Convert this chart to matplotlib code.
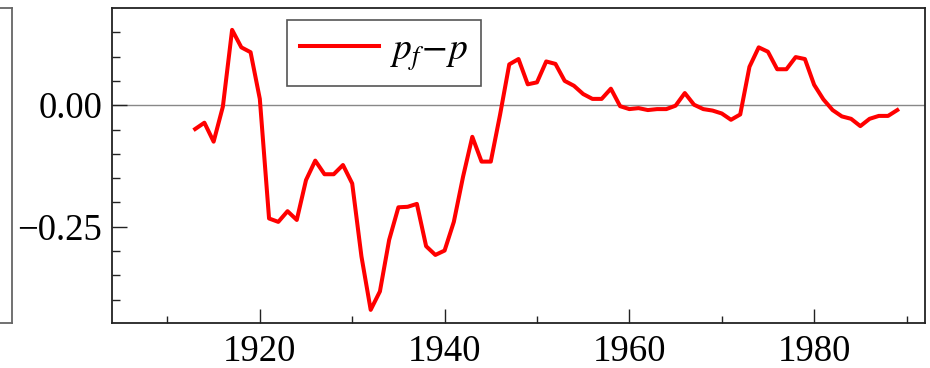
import numpy as np
import matplotlib.pyplot as plt

plt.rcParams['font.family'] = ['Liberation Serif', 'DejaVu Serif']
plt.rcParams['mathtext.fontset'] = 'stix'

years = np.arange(1913, 1990)
pf_minus_p = [
    -0.049, -0.036, -0.075, -0.003, 0.155, 0.119, 0.109, 0.013,   # 1913-1920
    -0.233, -0.240, -0.218, -0.236, -0.154, -0.114, -0.142, -0.142, -0.123, -0.161,  # 1921-1930
    -0.311, -0.421, -0.383, -0.277, -0.210, -0.209, -0.203, -0.290, -0.308, -0.299,  # 1931-1940
    -0.240, -0.147, -0.065, -0.116, -0.116, -0.020, 0.084, 0.095, 0.043, 0.047,     # 1941-1950
    0.090, 0.085, 0.050, 0.040, 0.023, 0.013, 0.013, 0.034, -0.002, -0.008,          # 1951-1960
    -0.006, -0.010, -0.008, -0.008, -0.001, 0.025, 0.001, -0.008, -0.011, -0.017,    # 1961-1970
    -0.030, -0.019, 0.079, 0.119, 0.110, 0.074, 0.074, 0.099, 0.095, 0.042,          # 1971-1980
    0.012, -0.010, -0.023, -0.028, -0.043, -0.028, -0.022, -0.022, -0.010,           # 1981-1989
]

fig = plt.figure(figsize=(9.3, 3.68), dpi=100)

# neighbouring panel, only its right edge is in view
left = fig.add_axes([-0.5, 0.1223, 0.5 + 12 / 930, 0.9783 - 0.1223])
left.set_xticks([])
left.set_yticks([])
for s in left.spines.values():
    s.set_color('#666666')
    s.set_linewidth(1.3)

ax = fig.add_axes([112 / 930, 0.1223, (925 - 112) / 930, 0.9783 - 0.1223])
ax.axhline(0, color='#888888', lw=1.0, zorder=1)
ax.plot(years, pf_minus_p, color='#ff0000', lw=2.9, label=r'$p_f\!-\!p$', zorder=3)

ax.set_xlim(1904, 1992)
ax.set_ylim(-0.448, 0.20)
ax.set_xticks([1920, 1940, 1960, 1980])
ax.set_xticks([1910, 1930, 1950, 1970, 1990], minor=True)
ax.set_yticks([0.0, -0.25])
ax.set_yticklabels(['0.00', '\u22120.25'])
ax.set_yticks(np.arange(-0.40, 0.16, 0.05), minor=True)

ax.tick_params(which='both', direction='in', top=False, right=False,
               labelsize=26.5, width=1.0, color='#222222')
ax.tick_params(axis='y', which='major', length=11, pad=7)
ax.tick_params(axis='y', which='minor', length=6)
ax.tick_params(axis='x', which='major', length=10, pad=8)
ax.tick_params(axis='x', which='minor', length=5)
for s in ax.spines.values():
    s.set_color('#222222')
    s.set_linewidth(1.3)

leg = ax.legend(loc='upper left', bbox_to_anchor=(0.215, 0.962), borderaxespad=0,
                fontsize=27, fancybox=False, framealpha=1, handlelength=2.1,
                handletextpad=0.3, borderpad=0.35)
leg.get_frame().set_edgecolor('#555555')
leg.get_frame().set_linewidth(1.2)

fig.savefig('out.png', dpi=100)
